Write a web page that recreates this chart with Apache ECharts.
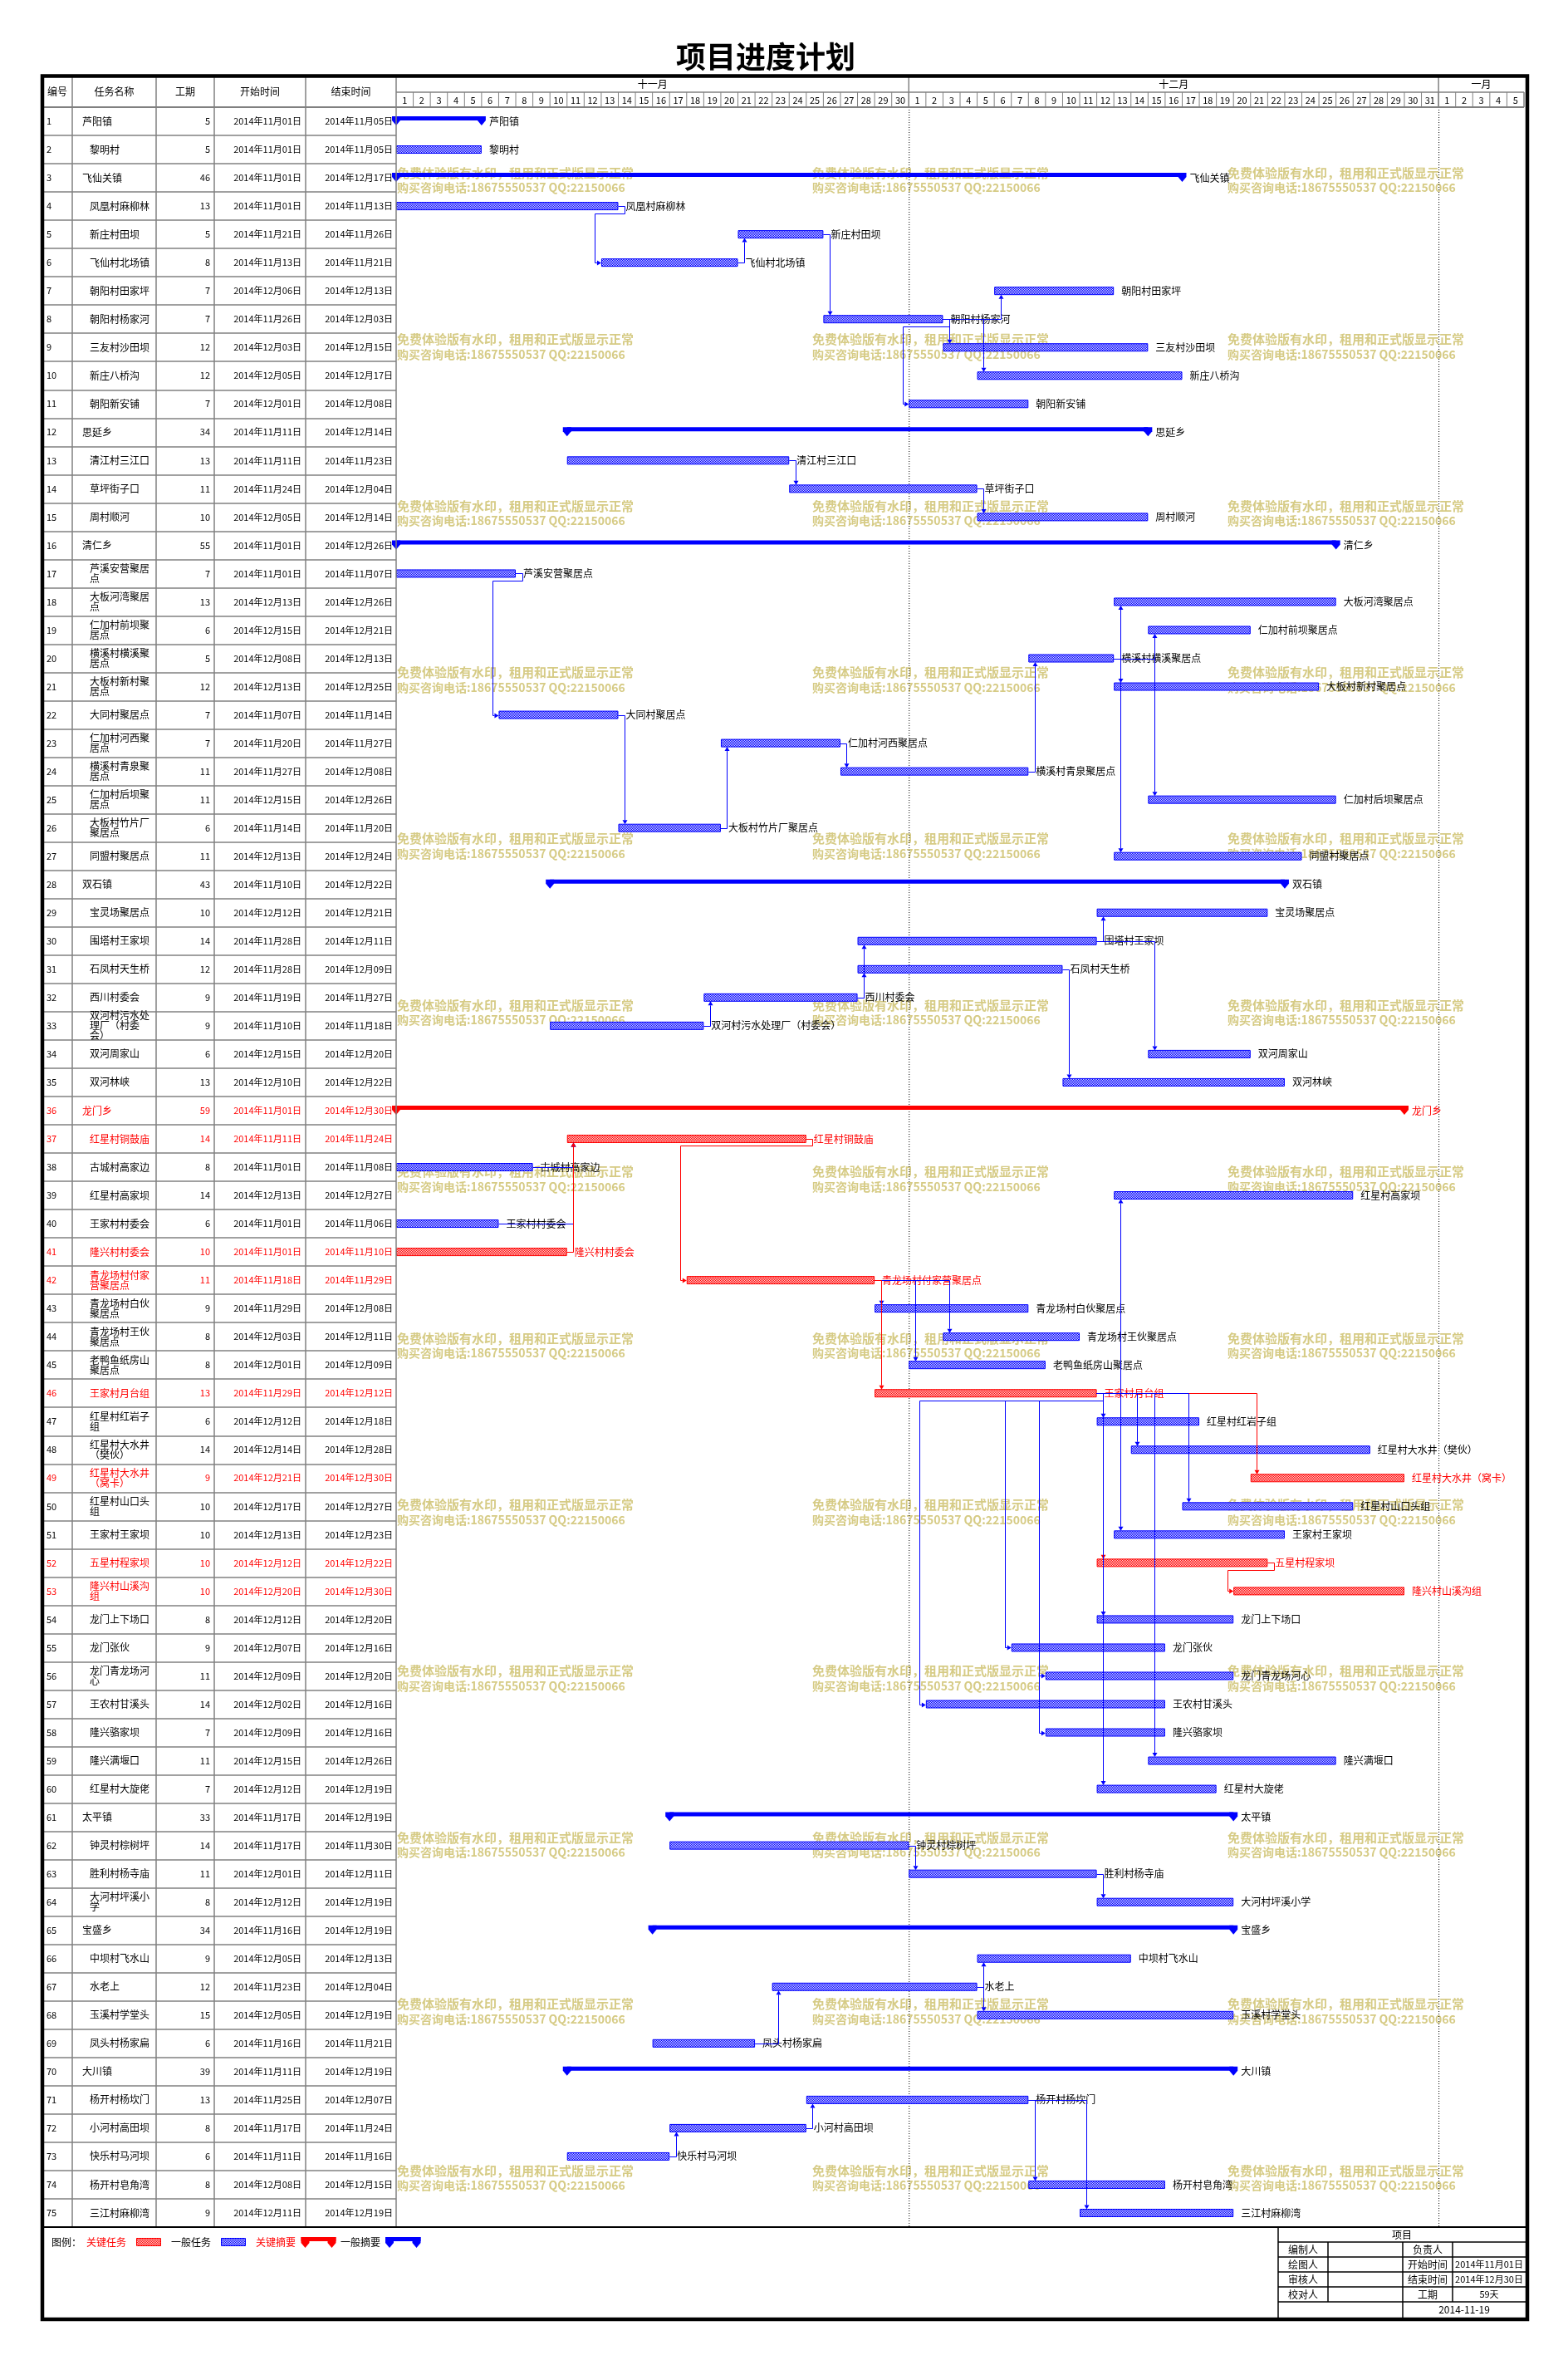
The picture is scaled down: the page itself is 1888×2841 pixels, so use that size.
<!DOCTYPE html>
<html><head><meta charset="utf-8">
<script src="https://cdn.jsdelivr.net/npm/echarts@6/dist/echarts.min.js"></script>
<style>html,body{margin:0;padding:0;background:#fff}#chart{width:1888px;height:2841px}</style>
</head><body><div id="chart"></div>
<script>
// ---------------- DATA ----------------
const taskIds = [1,2,3,4,5,6,7,8,9,10,11,12,13,14,15,16,17,18,19,20,21,22,23,24,25,26,27,28,29,30,31,32,33,34,35,36,37,38,39,40,41,42,43,44,45,46,47,48,49,50,51,52,53,54,55,56,57,58,59,60,61,62,63,64,65,66,67,68,69,70,71,72,73,74,75];
const taskNames = ['芦阳镇','黎明村','飞仙关镇','凤凰村麻柳林','新庄村田坝','飞仙村北场镇','朝阳村田家坪','朝阳村杨家河','三友村沙田坝','新庄八桥沟',
 '朝阳新安铺','思延乡','清江村三江口','草坪街子口','周村顺河','清仁乡','芦溪安营聚居点','大板河湾聚居点','仁加村前坝聚居点','横溪村横溪聚居点',
 '大板村新村聚居点','大同村聚居点','仁加村河西聚居点','横溪村青泉聚居点','仁加村后坝聚居点','大板村竹片厂聚居点','同盟村聚居点','双石镇','宝灵场聚居点','围塔村王家坝',
 '石凤村天生桥','西川村委会','双河村污水处理厂（村委会）','双河周家山','双河林峡','龙门乡','红星村铜鼓庙','古城村高家边','红星村高家坝','王家村村委会',
 '隆兴村村委会','青龙场村付家营聚居点','青龙场村白伙聚居点','青龙场村王伙聚居点','老鸭鱼纸房山聚居点','王家村月台组','红星村红岩子组','红星村大水井（樊伙）','红星村大水井（窝卡）','红星村山口头组',
 '王家村王家坝','五星村程家坝','隆兴村山溪沟组','龙门上下场口','龙门张伙','龙门青龙场河心','王农村甘溪头','隆兴骆家坝','隆兴满堰口','红星村大旋佬',
 '太平镇','钟灵村棕树坪','胜利村杨寺庙','大河村坪溪小学','宝盛乡','中坝村飞水山','水老上','玉溪村学堂头','凤头村杨家扁','大川镇',
 '杨开村杨坎门','小河村高田坝','快乐村马河坝','杨开村皂角湾','三江村麻柳湾'];
const durations = [5,5,46,13,5,8,7,7,12,12, 7,34,13,11,10,55,7,13,6,5, 12,7,7,11,11,6,11,43,10,14, 12,9,9,6,13,59,14,8,14,6,
 10,11,9,8,8,13,6,14,9,10, 10,10,10,8,9,11,14,7,11,7, 33,14,11,8,34,9,12,15,6,39, 13,8,6,8,9];
const startDates = ['2014年11月01日','2014年11月01日','2014年11月01日','2014年11月01日','2014年11月21日','2014年11月13日','2014年12月06日','2014年11月26日','2014年12月03日','2014年12月05日',
 '2014年12月01日','2014年11月11日','2014年11月11日','2014年11月24日','2014年12月05日','2014年11月01日','2014年11月01日','2014年12月13日','2014年12月15日','2014年12月08日',
 '2014年12月13日','2014年11月07日','2014年11月20日','2014年11月27日','2014年12月15日','2014年11月14日','2014年12月13日','2014年11月10日','2014年12月12日','2014年11月28日',
 '2014年11月28日','2014年11月19日','2014年11月10日','2014年12月15日','2014年12月10日','2014年11月01日','2014年11月11日','2014年11月01日','2014年12月13日','2014年11月01日',
 '2014年11月01日','2014年11月18日','2014年11月29日','2014年12月03日','2014年12月01日','2014年11月29日','2014年12月12日','2014年12月14日','2014年12月21日','2014年12月17日',
 '2014年12月13日','2014年12月12日','2014年12月20日','2014年12月12日','2014年12月07日','2014年12月09日','2014年12月02日','2014年12月09日','2014年12月15日','2014年12月12日',
 '2014年11月17日','2014年11月17日','2014年12月01日','2014年12月12日','2014年11月16日','2014年12月05日','2014年11月23日','2014年12月05日','2014年11月16日','2014年11月11日',
 '2014年11月25日','2014年11月17日','2014年11月11日','2014年12月08日','2014年12月11日'];
const endDates = ['2014年11月05日','2014年11月05日','2014年12月17日','2014年11月13日','2014年11月26日','2014年11月21日','2014年12月13日','2014年12月03日','2014年12月15日','2014年12月17日',
 '2014年12月08日','2014年12月14日','2014年11月23日','2014年12月04日','2014年12月14日','2014年12月26日','2014年11月07日','2014年12月26日','2014年12月21日','2014年12月13日',
 '2014年12月25日','2014年11月14日','2014年11月27日','2014年12月08日','2014年12月26日','2014年11月20日','2014年12月24日','2014年12月22日','2014年12月21日','2014年12月11日',
 '2014年12月09日','2014年11月27日','2014年11月18日','2014年12月20日','2014年12月22日','2014年12月30日','2014年11月24日','2014年11月08日','2014年12月27日','2014年11月06日',
 '2014年11月10日','2014年11月29日','2014年12月08日','2014年12月11日','2014年12月09日','2014年12月12日','2014年12月18日','2014年12月28日','2014年12月30日','2014年12月27日',
 '2014年12月23日','2014年12月22日','2014年12月30日','2014年12月20日','2014年12月16日','2014年12月20日','2014年12月16日','2014年12月16日','2014年12月26日','2014年12月19日',
 '2014年12月19日','2014年11月30日','2014年12月11日','2014年12月19日','2014年12月19日','2014年12月13日','2014年12月04日','2014年12月19日','2014年11月21日','2014年12月19日',
 '2014年12月07日','2014年11月24日','2014年11月16日','2014年12月15日','2014年12月19日'];
const summaryIds = [1,3,12,16,28,36,61,65,70];
const criticalIds = [36,37,41,42,46,49,52,53];
const links = [[4,6],[6,5],[5,8],[8,7],[8,9],[8,10],[8,11],
 [13,14],[14,15],
 [17,22],[22,26],[26,23],[23,24],[24,20],[20,18],[20,21],[20,27],[20,19],[20,25],
 [33,32],[32,30],[32,31],[31,35],[30,29],[30,34],
 [38,37],[40,37],[41,37],[37,42],[42,43],[42,44],[42,45],[42,46],[46,39],[46,47],[46,48],[46,49],[46,50],[46,51],[46,52],[52,53],
 [46,54],[46,55],[46,56],[46,57],[46,58],[46,59],[46,60],
 [62,63],[63,64],
 [69,67],[67,66],[67,68],
 [73,72],[72,71],[71,74],[71,75]];
const monthLabels = ['十一月','十二月','一月'];
const monthDays = [30,31,5];
const dayLabels = ['1','2','3','4','5','6','7','8','9','10','11','12','13','14','15','16','17','18','19','20','21','22','23','24','25','26','27','28','29','30',
 '1','2','3','4','5','6','7','8','9','10','11','12','13','14','15','16','17','18','19','20','21','22','23','24','25','26','27','28','29','30','31',
 '1','2','3','4','5'];
const tableHeaders = ['编号','任务名称','工期','开始时间','结束时间'];
const legendLabels = ['图例：','关键任务','一般任务','关键摘要','一般摘要'];
const infoTitle = '项目';
const infoLeft = ['编制人','绘图人','审核人','校对人'];
const infoRight = ['负责人','开始时间','结束时间','工期'];
const infoValues = ['','2014年11月01日','2014年12月30日','59天'];
const infoDate = '2014-11-19';
const watermark = ['免费体验版有水印，租用和正式版显示正常','购买咨询电话:18675550537 QQ:22150066'];

// ---------------- LAYOUT / STYLE ----------------
const FONT = '"Noto Sans CJK SC", "Noto Sans", sans-serif';
const BLUE = '#0000ff', RED = '#ff0000', GRAY = '#808080';
const LAY = { frameL:51, frameR:1839, frameT:91.5, frameB:2792, hdrTop:91, hdrMid:111, gridTop:129, gridBot:2681,
  tableL:51, tableR:477, ganttR:1835, colEdges:[51,87,188,258,368,477] };

function dayOffset(s){ const m = s.match(/(\d+)年(\d+)月(\d+)日/); return Math.round((Date.UTC(+m[1], +m[2]-1, +m[3]) - Date.UTC(2014,10,1))/86400000); }
const startOff = startDates.map(dayOffset);
const endOff = startOff.map((s,i)=>s+durations[i]);
const isSummary = taskIds.map(id=>summaryIds.includes(id));
const isCrit = taskIds.map(id=>criticalIds.includes(id));
const monthStart = monthDays.map((d,k)=>monthDays.slice(0,k).reduce((a,b)=>a+b,0));
const totalDays = monthDays.reduce((a,b)=>a+b,0);

function makePattern(col, light){ const c=document.createElement('canvas'); c.width=2; c.height=2; const g=c.getContext('2d');
  g.fillStyle=light; g.fillRect(0,0,2,2); g.fillStyle=col; g.fillRect(0,0,1,1); g.fillRect(1,1,1,1); return {image:c, repeat:'repeat'}; }
const patBlue = makePattern(BLUE,'#d4d4ff'), patRed = makePattern(RED,'#ffd4d4');

function wrapName(s, n){ const ch=[...s]; const out=[]; let i=0;
  while(i<ch.length){ let line=ch.slice(i,i+n); i+=line.length;
    if(i<ch.length && '）),，'.includes(ch[i]) && line.length>1){ line.pop(); i--; }
    out.push(line.join('')); }
  return out; }

const txt = (text,x,y,o) => Object.assign({type:'text', style:Object.assign({text, x, y, fill:'#000', fontSize:12, fontFamily:FONT, align:'left', verticalAlign:'middle'}, o||{})});

// ---------------- SERIES ----------------
const tableSeries = { type:'custom', xAxisIndex:0, yAxisIndex:0, z:5, silent:true,
  data: taskIds.map((id,i)=>[0,i]), encode:{x:0,y:1},
  renderItem(params, api){
    const i = api.value(1); const y = api.coord([0,i])[1]; const col = isCrit[i]?RED:'#000';
    const ch = [];
    ch.push(txt(String(taskIds[i]), 56, y, {fill:col, fontSize:11}));
    const lines = wrapName(taskNames[i], 6); const nx = isSummary[i]?99:108;
    lines.forEach((ln,k)=>ch.push(txt(ln, nx, y+(k-(lines.length-1)/2)*12, {fill:col})));
    ch.push(txt(String(durations[i]), 253, y, {fill:col, fontSize:11, align:'right'}));
    ch.push(txt(startDates[i], 363, y, {fill:col, fontSize:11, align:'right'}));
    ch.push(txt(endDates[i], 473, y, {fill:col, fontSize:11, align:'right'}));
    return {type:'group', children:ch};
  }};

const dayHeaderSeries = { type:'custom', xAxisIndex:1, yAxisIndex:1, z:5, silent:true,
  data: dayLabels.map((d,i)=>[i,0]), encode:{x:0,y:1},
  renderItem(params, api){
    const i = api.value(0); const x0 = api.coord([i,0])[0], x1 = api.coord([i+1,0])[0];
    const ch = [txt(dayLabels[i], (x0+x1)/2, 120.5, {fontSize:11, align:'center'})];
    ch.push({type:'line', shape:{x1:x1, y1:LAY.hdrMid, x2:x1, y2:LAY.gridTop}, style:{stroke:GRAY, lineWidth:1}});
    return {type:'group', children:ch};
  }};

const monthSeries = { type:'custom', xAxisIndex:1, yAxisIndex:1, z:5, silent:true,
  data: monthLabels.map((m,k)=>[monthStart[k], monthStart[k]+monthDays[k], 0]), encode:{x:[0,1], y:2},
  renderItem(params, api){
    const k = params.dataIndex; const s = api.value(0), e = api.value(1);
    const x0 = api.coord([s,0])[0], x1 = api.coord([e,0])[0];
    const ch = [txt(monthLabels[k], (x0+x1)/2, 101, {align:'center'})];
    if (s>0){
      ch.push({type:'line', shape:{x1:x0, y1:LAY.hdrTop, x2:x0, y2:LAY.gridTop}, style:{stroke:GRAY, lineWidth:1.5}});
      ch.push({type:'line', shape:{x1:x0+0.5, y1:LAY.gridTop, x2:x0+0.5, y2:LAY.gridBot}, style:{stroke:'#000', lineWidth:1, lineDash:[1,2]}});
    }
    return {type:'group', children:ch};
  }};

const barSeries = { type:'custom', xAxisIndex:1, yAxisIndex:1, z:6, silent:true,
  data: taskIds.map((id,i)=>[i, startOff[i], endOff[i]]), encode:{y:0, x:[1,2]},
  renderItem(params, api){
    const i = api.value(0); const p0 = api.coord([api.value(1), i]), p1 = api.coord([api.value(2), i]);
    const c = p0[1], col = isCrit[i]?RED:BLUE; const ch = [];
    if (isSummary[i]){
      ch.push({type:'rect', shape:{x:p0[0], y:c-6, width:p1[0]-p0[0], height:5}, style:{fill:col}});
      [p0[0], p1[0]].forEach(x=>ch.push({type:'polygon', shape:{points:[[x-5,c-6],[x+5,c-6],[x+5,c-1],[x,c+5],[x-5,c-1]]}, style:{fill:col}}));
    } else {
      ch.push({type:'rect', shape:{x:p0[0]+0.5, y:c-4.5, width:p1[0]-p0[0]-1, height:9}, style:{fill:isCrit[i]?patRed:patBlue, stroke:col, lineWidth:1}});
    }
    ch.push(txt(taskNames[i], p1[0]+9, c, {fill:isCrit[i]?RED:'#000'}));
    return {type:'group', children:ch};
  }};

const linkSeries = { type:'custom', xAxisIndex:1, yAxisIndex:1, z:7, silent:true,
  data: links.map(l=>[l[0]-1, l[1]-1]), encode:{x:0, y:1},
  renderItem(params, api){
    const p = api.value(0), s = api.value(1);
    const xe = api.coord([endOff[p], p])[0], yp = api.coord([0,p])[1];
    const xs = api.coord([startOff[s], s])[0], ys = api.coord([0,s])[1];
    const dir = s>p?1:-1; const col = (isCrit[p]&&isCrit[s])?RED:BLUE;
    const H=4.5, ST=7.5, AR=5; let pts, arrow;
    if (xs+ST >= xe){
      const xv = Math.round(xs+ST)+0.5, yEnd = ys-dir*H;
      pts = [[xe,Math.round(yp)+0.5],[xv,Math.round(yp)+0.5],[xv,yEnd-dir*AR]];
      arrow = [[xv,yEnd],[xv-3,yEnd-dir*AR],[xv+3,yEnd-dir*AR]];
    } else {
      const xr = Math.round(xe+ST)+0.5, yb = Math.round(yp+dir*(H+4))+0.5, xl = Math.round(xs-ST)+0.5, yy = Math.round(ys)+0.5;
      pts = [[xe,Math.round(yp)+0.5],[xr,Math.round(yp)+0.5],[xr,yb],[xl,yb],[xl,yy],[xs-AR,yy]];
      arrow = [[xs,yy],[xs-AR,yy-3],[xs-AR,yy+3]];
    }
    return {type:'group', children:[
      {type:'polyline', shape:{points:pts}, style:{stroke:col, lineWidth:1, fill:null}},
      {type:'polygon', shape:{points:arrow}, style:{fill:col}}]};
  }};

// ---------------- GRAPHIC (frame, header, legend, info box, watermark) ----------------
const G = [];
const gtxt = (text,x,y,o,z) => Object.assign(txt(text,x,y,o), {z: z==null?20:z});
const gline = (x1,y1,x2,y2,stroke,lw,z) => ({type:'line', z:z==null?20:z, shape:{x1,y1,x2,y2}, style:{stroke, lineWidth:lw}});
G.push(gtxt('项目进度计划', 922, 68, {fontSize:36, fontWeight:'bold', align:'center'}));
for (let r=0;r<13;r++){ for (const cx of [478,978,1478]){ const y0 = 208 + r*200.4;
  G.push(gtxt(watermark[0], cx, y0, {fontSize:15, fontWeight:'bold', fill:'#d6cb85'}, 1));
  G.push(gtxt(watermark[1], cx, y0+18, {fontSize:14, fontWeight:'bold', fill:'#d6cb85'}, 1)); } }
tableHeaders.forEach((h,k)=>G.push(gtxt(h, (LAY.colEdges[k]+LAY.colEdges[k+1])/2, 110, {align:'center'})));
LAY.colEdges.forEach(x=>G.push(gline(x, LAY.hdrTop, x, LAY.gridBot, GRAY, 1.5)));
G.push(gline(LAY.tableR, LAY.hdrMid, LAY.ganttR, LAY.hdrMid, GRAY, 1.5));
G.push(gline(LAY.tableL, LAY.gridTop, LAY.ganttR, LAY.gridTop, GRAY, 2));
G.push(gline(LAY.ganttR, LAY.hdrMid, LAY.ganttR, LAY.gridTop, GRAY, 1));
G.push(gline(LAY.frameL, LAY.gridBot, LAY.frameR, LAY.gridBot, '#000', 2));
// legend
const LY = 2699;
G.push(gtxt(legendLabels[0], 62, LY, {fontSize:12}));
G.push(gtxt(legendLabels[1], 104, LY, {fontSize:12, fill:RED}));
G.push({type:'rect', z:20, shape:{x:164.5, y:2694.5, width:29, height:9}, style:{fill:patRed, stroke:RED, lineWidth:1}});
G.push(gtxt(legendLabels[2], 206, LY, {fontSize:12}));
G.push({type:'rect', z:20, shape:{x:266.5, y:2694.5, width:29, height:9}, style:{fill:patBlue, stroke:BLUE, lineWidth:1}});
G.push(gtxt(legendLabels[3], 308, LY, {fontSize:12, fill:RED}));
function sumSym(x0,x1,col){ const t=2693;
  G.push({type:'rect', z:20, shape:{x:x0, y:t, width:x1-x0, height:5}, style:{fill:col}});
  [[x0,x0+10],[x1-10,x1]].forEach(([a,b])=>G.push({type:'polygon', z:20, shape:{points:[[a,t],[b,t],[b,t+7],[(a+b)/2,t+13],[a,t+7]]}, style:{fill:col}})); }
sumSym(362.5,404.5,RED);
G.push(gtxt(legendLabels[4], 410, LY, {fontSize:12}));
sumSym(464,506.5,BLUE);
// info box
const IX=[1539,1599,1689,1749,1837], IY=[2681,2699,2717,2735,2753,2771,2790];
G.push(gline(IX[0], IY[0], IX[0], IY[6], '#000', 1.5));
for (let r=1;r<=5;r++) G.push(gline(IX[0], IY[r], IX[4], IY[r], '#000', 1.5));
G.push(gline(IX[1], IY[1], IX[1], IY[5], '#000', 1.5));
G.push(gline(IX[2], IY[1], IX[2], IY[6], '#000', 1.5));
G.push(gline(IX[3], IY[1], IX[3], IY[5], '#000', 1.5));
G.push(gtxt(infoTitle, (IX[0]+IX[4])/2, (IY[0]+IY[1])/2, {align:'center'}));
for (let r=0;r<4;r++){ const yc=(IY[r+1]+IY[r+2])/2;
  G.push(gtxt(infoLeft[r], (IX[0]+IX[1])/2, yc, {align:'center'}));
  G.push(gtxt(infoRight[r], (IX[2]+IX[3])/2, yc, {align:'center'}));
  if (infoValues[r]) G.push(gtxt(infoValues[r], (IX[3]+IX[4])/2, yc, {align:'center', fontSize:11})); }
G.push(gtxt(infoDate, (IX[2]+IX[4])/2, (IY[5]+IY[6])/2, {align:'center', fontSize:12}));
// frame
G.push({type:'rect', z:30, shape:{x:LAY.frameL, y:LAY.frameT, width:LAY.frameR-LAY.frameL, height:LAY.frameB-LAY.frameT}, style:{fill:null, stroke:'#000', lineWidth:4.5}});

// ---------------- CHART ----------------
const chart = echarts.init(document.getElementById('chart'), null, {renderer:'canvas'});
chart.setOption({
  backgroundColor:'#fff', animation:false,
  grid:[
    {left:LAY.tableL, top:LAY.gridTop, width:LAY.tableR-LAY.tableL, height:LAY.gridBot-LAY.gridTop, containLabel:false},
    {left:LAY.tableR, top:LAY.gridTop, width:LAY.ganttR-LAY.tableR, height:LAY.gridBot-LAY.gridTop, containLabel:false}
  ],
  xAxis:[
    {gridIndex:0, type:'value', min:0, max:426, show:false},
    {gridIndex:1, type:'value', min:0, max:totalDays, show:false}
  ],
  yAxis:[
    {gridIndex:0, type:'category', data:taskIds.map(String), inverse:true,
     axisLine:{show:false}, axisTick:{show:false}, axisLabel:{show:false},
     splitLine:{show:true, interval:0, lineStyle:{color:GRAY, width:1.5}}},
    {gridIndex:1, type:'category', data:taskIds.map(String), inverse:true, show:false}
  ],
  graphic:{elements:G},
  series:[tableSeries, monthSeries, dayHeaderSeries, barSeries, linkSeries]
});
</script></body></html>
